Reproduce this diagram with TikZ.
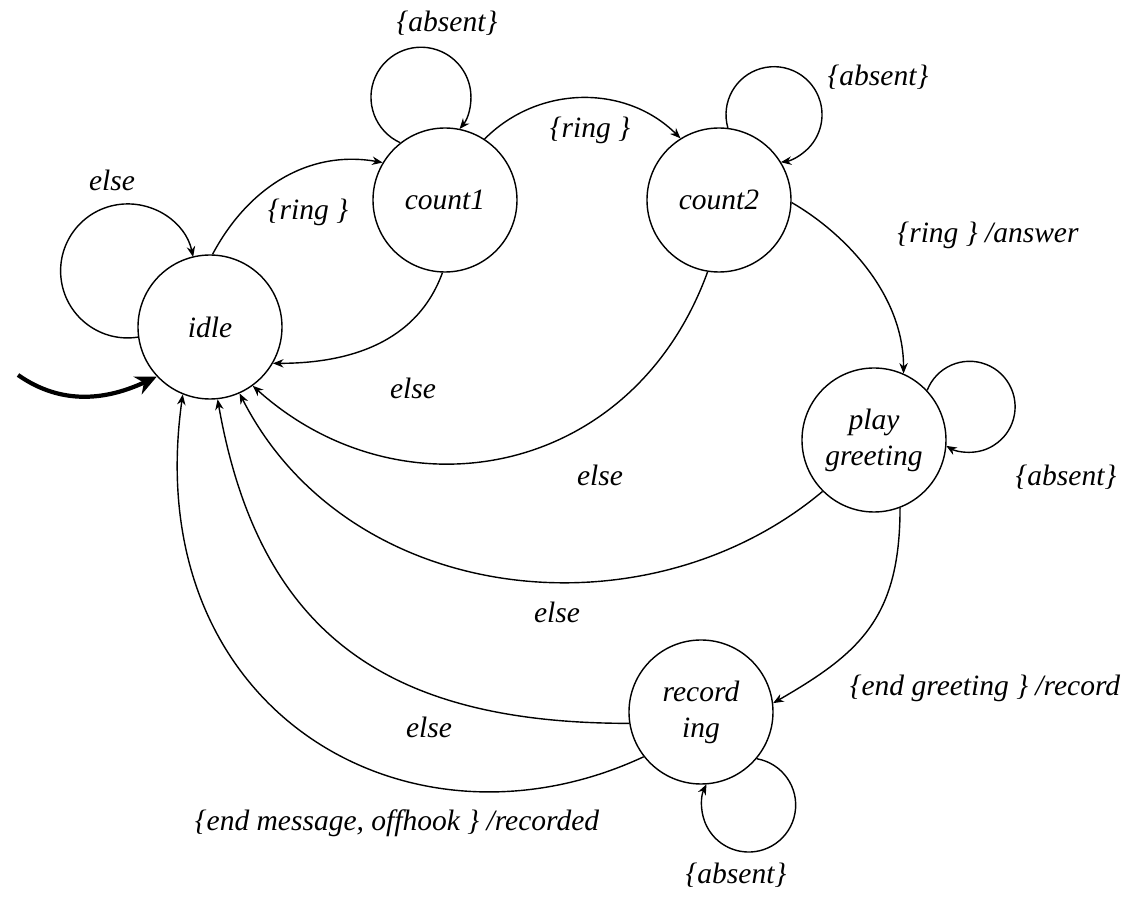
\documentclass[tikz,border=0pt]{standalone}
\usepackage{fontspec}
\setmainfont{Liberation Serif}
\usetikzlibrary{arrows.meta}

\begin{document}
\begin{tikzpicture}[thin,every node/.style={inner sep=1pt,font=\fontsize{8.4}{10.2}\selectfont\itshape},
        >={Stealth[length=3pt,width=2.4pt]},
        statenode/.style={circle,draw,minimum size=1.44cm,inner sep=0pt,align=center}]
       \useasboundingbox (0,0) rectangle (11.33,8.97);
       \node[statenode](idle) at (2.10,5.70){idle};
       \node[statenode](count1) at (4.45,6.97){count1};
       \node[statenode](count2) at (7.19,6.97){count2};
       \node[statenode](play) at (8.74,4.57){play\\greeting};
       \node[statenode](rec) at (7.01,1.85){record\\ing};
       \coordinate(start) at (0.18,5.22);
       \draw[very thick,-{Stealth[length=6pt,width=5.5pt]}](start) to[out=-35,in=205] (idle.223);
       \draw[->](idle.188) arc[start angle=-81.07,end angle=-347.98,radius=0.67];
       \draw[->](idle.88) to[out=62,in=170] (count1.149);
       \draw[->](count1.268) to[out=250,in=0] (idle.330);
       \draw[->](count1.128) arc[start angle=245.5,end angle=-39.5,radius=0.5];
       \draw[->](count1.57) to[bend left=45] (count2.122);
       \draw[->](count2.83) arc[start angle=195.9,end angle=-81.8,radius=0.48];
       \draw[->](count2.358) .. controls +(-30:0.6) and +(90:0.8) .. (play.66);
       \draw[->](count2.261) .. controls +(250:2.2) and +(-42:2.0) .. (idle.306);
       \draw[->](play.43) arc[start angle=158.9,end angle=-120.9,radius=0.455];
       \draw[->](play.225) .. controls +(220:2.3) and +(-63:2.4) .. (idle.294);
       \draw[->](play.291) .. controls +(270:1.1) and +(30:1.0) .. (rec.7);
       \draw[->](rec.189) .. controls +(180:2.4) and +(-80:2.4) .. (idle.276);
       \draw[->](rec.218) .. controls +(205:2.6) and +(262:3.2) .. (idle.248);
       \draw[->](rec.320) arc[start angle=80.2,end angle=-206.2,radius=0.47];
       \node(lelseidle) at (1.12,7.17){else};
       \node(lringa) at (3.08,6.85){\{ring \}};
       \node(labsa) at (4.47,8.74){\{absent\}};
       \node(lringb) at (5.90,7.67){\{ring \}};
       \node(labsb) at (8.78,8.20){\{absent\}};
       \node(lanswer) at (9.88,6.62){\{ring \} /answer};
       \node(lelsea) at (4.13,5.09){else};
       \node(lelseb) at (6.00,4.22){else};
       \node(labsc) at (10.66,4.20){\{absent\}};
       \node(lelsec) at (5.57,2.85){else};
       \node(lrecord) at (9.85,2.09){\{end greeting \} /record};
       \node(lelsed) at (4.29,1.70){else};
       \node(lrecorded) at (3.97,0.74){\{end message, offhook \} /recorded};
       \node(labsd) at (7.36,0.22){\{absent\}};
    \end{tikzpicture}
\end{document}
